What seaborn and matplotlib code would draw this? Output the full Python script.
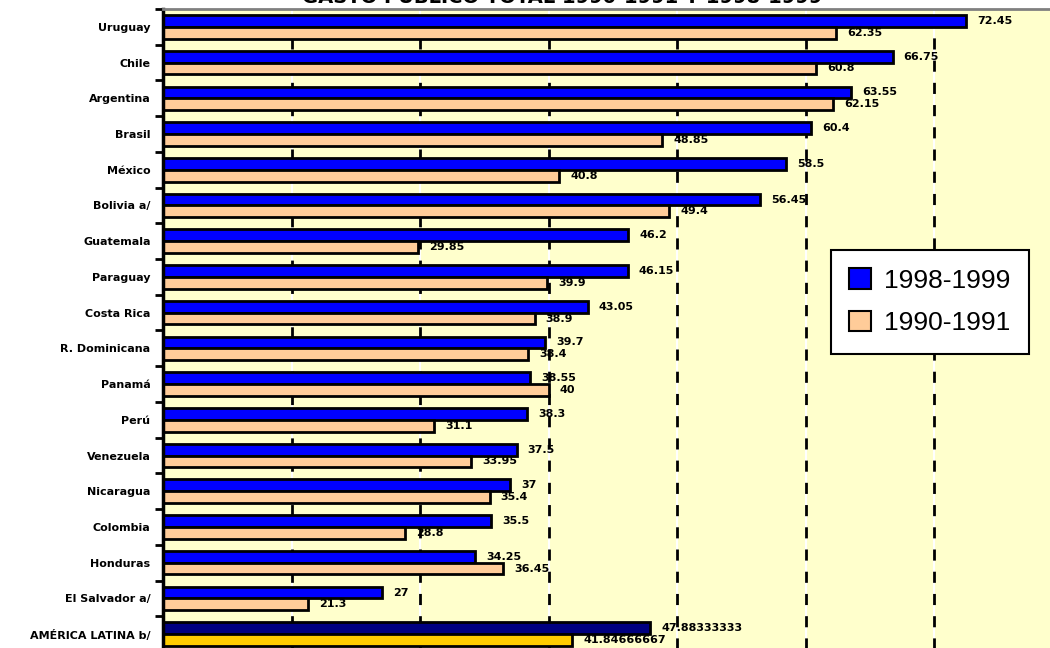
import pandas as pd
import numpy as np
import matplotlib
matplotlib.use("Agg")
import matplotlib.pyplot as plt
from matplotlib.patches import Patch
import seaborn as sns

sns.set_style("white")
plt.rcParams['font.family'] = ['DejaVu Sans']
plt.rcParams['text.color'] = 'black'
plt.rcParams['ytick.color'] = 'black'

# --- data ---
countries = ["Uruguay", "Chile", "Argentina", "Brasil", "México", "Bolivia a/",
             "Guatemala", "Paraguay", "Costa Rica", "R. Dominicana", "Panamá",
             "Perú", "Venezuela", "Nicaragua", "Colombia", "Honduras",
             "El Salvador a/", "AMÉRICA LATINA b/"]
gasto_1998 = [72.45, 66.75, 63.55, 60.4, 58.5, 56.45, 46.2, 46.15, 43.05, 39.7,
              38.55, 38.3, 37.5, 37, 35.5, 34.25, 27, 47.88333333]
gasto_1990 = [62.35, 60.8, 62.15, 48.85, 40.8, 49.4, 29.85, 39.9, 38.9, 38.4,
              40, 31.1, 33.95, 35.4, 28.8, 36.45, 21.3, 41.84666667]
periods = ["1998-1999", "1990-1991"]

df = pd.DataFrame({
    "pais": countries * 2,
    "gasto": gasto_1998 + gasto_1990,
    "periodo": [periods[0]] * len(countries) + [periods[1]] * len(countries),
})

BLUE = "#0000FF"
PEACH = "#FFCC99"
NAVY = "#000080"
GOLD = "#FFCC00"
BG = "#FFFFCC"

fig = plt.figure(figsize=(10.5, 6.48), dpi=100)
ax = fig.add_axes([163 / 1050, 1 - 652 / 648, 1 - 163 / 1050, 643 / 648])
ax.set_facecolor(BG)

# dashed grid drawn under the bars (white line behind black dashes)
for g in range(20, 80, 10):
    ax.axvline(g, color="white", lw=1.5, zorder=0.5)
    ax.axvline(g, color="black", lw=2, ls=(0, (4, 4)), zorder=0.6)

sns.barplot(data=df, y="pais", x="gasto", hue="periodo", hue_order=periods,
            order=countries, palette=[BLUE, PEACH], orient="h", width=0.66,
            edgecolor="black", linewidth=2, saturation=1, ax=ax, zorder=2,
            legend=False, errorbar=None)

# latin america totals use darker colours
ax.containers[0].patches[-1].set_facecolor(NAVY)
ax.containers[1].patches[-1].set_facecolor(GOLD)

for cont, vals in zip(ax.containers, [gasto_1998, gasto_1990]):
    ax.bar_label(cont, labels=[f"{v:.10g}" for v in vals], padding=8,
                 fontsize=8, fontweight="bold", color="black")

ax.set_xlim(10, 79)
ax.set_ylim(len(countries) - 0.5, -0.5)
ax.set_xlabel("")
ax.set_ylabel("")
ax.set_xticks([])

ax.set_yticks(range(len(countries)))
ax.set_yticklabels(countries, fontsize=8, fontweight="bold", color="black")
ax.set_yticks(np.arange(len(countries)) - 0.5, minor=True)
ax.tick_params(axis="y", which="major", length=0, pad=9)
ax.tick_params(axis="y", which="minor", length=6, width=2, color="black",
               direction="out", left=True)

for side in ["right", "bottom"]:
    ax.spines[side].set_visible(False)
ax.spines["left"].set_color("black")
ax.spines["left"].set_linewidth(2.5)
ax.spines["top"].set_color("#808080")
ax.spines["top"].set_linewidth(2)

handles = [Patch(facecolor=BLUE, edgecolor="black", lw=1.5, label=periods[0]),
           Patch(facecolor=PEACH, edgecolor="black", lw=1.5, label=periods[1])]
leg = fig.legend(handles=handles, loc="upper left",
                 bbox_to_anchor=(831 / 1050, 1 - 250 / 648),
                 borderaxespad=0, frameon=True, fancybox=False,
                 edgecolor="black", handlelength=0.8, handleheight=0.8,
                 handletextpad=0.5, labelspacing=0.7, borderpad=0.7,
                 prop={"family": "Liberation Sans", "size": 19})
leg.get_frame().set_linewidth(1.5)
leg.get_frame().set_alpha(1)
for t in leg.get_texts():
    t.set_color("black")

fig.text(0.535, 1 - 3 / 648, "GASTO PÚBLICO TOTAL 1990-1991 Y 1998-1999",
         ha="center", va="baseline", fontsize=14, fontweight="bold")

fig.savefig("out.png", dpi=100)
